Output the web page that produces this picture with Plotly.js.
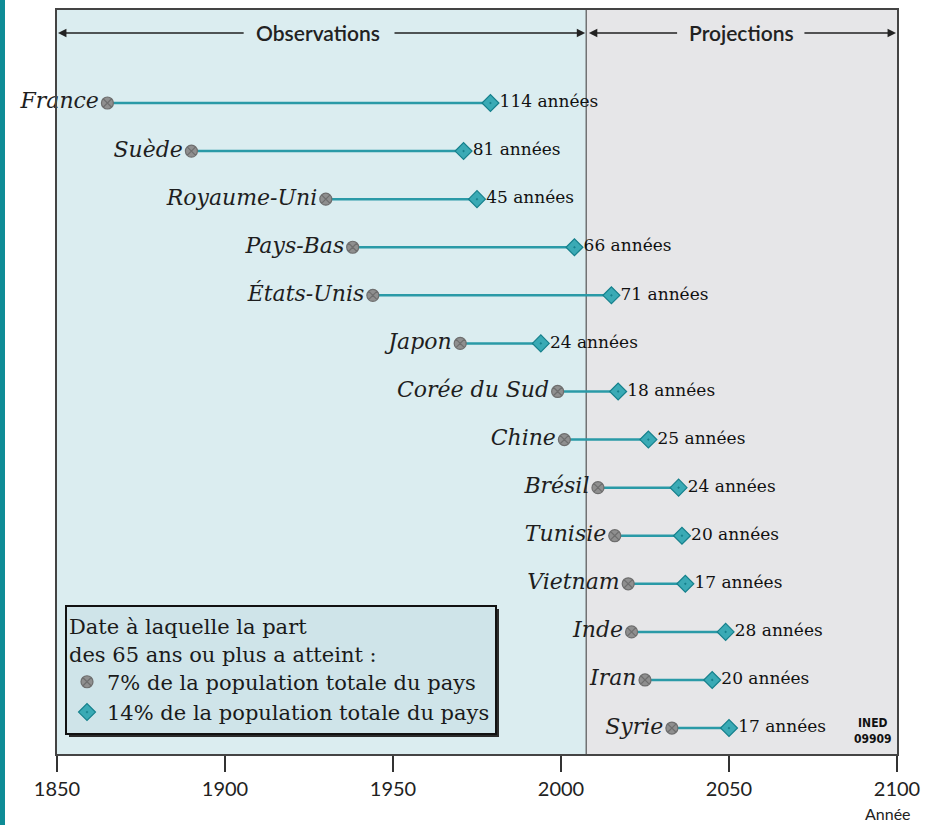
<!DOCTYPE html>
<html>
<head>
<meta charset="utf-8">
<script src="https://cdn.plot.ly/plotly-3.0.1.min.js"></script>
<style>html,body{margin:0;padding:0;background:#fff;}#chart{width:928px;height:825px;}</style>
</head>
<body>
<div id="chart"></div>
<script>
// ---- Data ----
const countries = ['France','Suède','Royaume-Uni','Pays-Bas','États-Unis','Japon','Corée du Sud','Chine','Brésil','Tunisie','Vietnam','Inde','Iran','Syrie'];
const year7  = [1865,1890,1930,1938,1944,1970,1999,2001,2011,2016,2020,2021,2025,2033];
const year14 = [1979,1971,1975,2004,2015,1994,2017,2026,2035,2036,2037,2049,2045,2050];
const durationLabels = ['114 années','81 années','45 années','66 années','71 années','24 années','18 années','25 années','24 années','20 années','17 années','28 années','20 années','17 années'];
const xTicks = [1850,1900,1950,2000,2050,2100];
const observationsEnd = 2007.5;
const seriesNames = ['7% de la population totale du pays','14% de la population totale du pays'];
const legendTitle = 'Date à laquelle la part<br>des 65 ans ou plus a atteint :';

// ---- Build traces ----
const lineX = [], lineY = [];
countries.forEach((c,i)=>{ lineX.push(year7[i], year14[i], null); lineY.push(c, c, null); });

const serif = '"DejaVu Serif", "Liberation Serif", serif';
const sans = 'Lato, "Noto Sans", sans-serif';

const traces = [
  {type:'scatter', mode:'lines', x:lineX, y:lineY, showlegend:false, hoverinfo:'skip',
   line:{color:'#2a9aa7', width:2.5}},
  {type:'scatter', mode:'markers+text', x:year7, y:countries, name:seriesNames[0],
   text:countries, textposition:'middle left', cliponaxis:false,
   textfont:{family:serif, size:22, style:'italic', color:'#1e1e1e'},
   marker:{symbol:'circle-x', size:12, color:'#8f8f8f', line:{color:'#6e6e6e', width:1.2}}},
  {type:'scatter', mode:'markers+text', x:year14, y:countries, name:seriesNames[1],
   text:durationLabels, textposition:'middle right', cliponaxis:false,
   textfont:{family:serif, size:17, color:'#111'},
   marker:{symbol:'diamond-dot', size:13, color:'#3aaab5', line:{color:'#15808c', width:1.2}}}
];

const px2x = p => (p-57)/840;
const py2y = p => (754-p)/744;

const shapes = [
  {type:'rect', xref:'x', yref:'paper', x0:1850, x1:observationsEnd, y0:0, y1:1, layer:'below', fillcolor:'#dbedf0', line:{width:0}},
  {type:'rect', xref:'x', yref:'paper', x0:observationsEnd, x1:2100, y0:0, y1:1, layer:'below', fillcolor:'#e6e6e8', line:{width:0}},
  {type:'line', xref:'x', yref:'paper', x0:observationsEnd, x1:observationsEnd, y0:0, y1:1, layer:'below', line:{color:'#555', width:1.2}},
  // legend drop shadow
  {type:'rect', xref:'paper', yref:'paper', x0:px2x(69), x1:px2x(499), y0:py2y(737), y1:py2y(609), layer:'above', fillcolor:'#2a2a2a', line:{width:0}},
  // left teal page stripe
  {type:'rect', xref:'paper', yref:'paper', x0:px2x(0), x1:px2x(5), y0:py2y(825), y1:py2y(0), layer:'above', fillcolor:'#0e8c96', line:{width:0}}
];

const yTopBand = py2y(33);
const arrowCommon = {xref:'x', yref:'paper', axref:'x', ayref:'pixel', ay:0, text:'', showarrow:true,
  arrowhead:2, arrowsize:1.2, arrowwidth:1.4, arrowcolor:'#222', y:yTopBand, standoff:0, startstandoff:0};
const annotations = [
  Object.assign({}, arrowCommon, {x:1850.3, ax:1906}),
  Object.assign({}, arrowCommon, {x:observationsEnd-0.3, ax:1950}),
  Object.assign({}, arrowCommon, {x:observationsEnd+0.8, ax:2035}),
  Object.assign({}, arrowCommon, {x:2099.7, ax:2072}),
  {xref:'x', yref:'paper', x:1927.8, y:yTopBand, yanchor:'middle', text:'Observations', showarrow:false,
   font:{family:sans, size:21, color:'#222', weight:600}},
  {xref:'x', yref:'paper', x:2053.6, y:yTopBand, yanchor:'middle', text:'Projections', showarrow:false,
   font:{family:sans, size:21, color:'#222', weight:600}},
  {xref:'paper', yref:'paper', x:px2x(888), y:py2y(813), text:'Année', showarrow:false, xanchor:'center', yanchor:'middle',
   font:{family:sans, size:16, color:'#222'}},
  {xref:'paper', yref:'paper', x:px2x(894), y:py2y(731), text:'<b>INED</b><br><b>09909</b>', showarrow:false, xanchor:'right', yanchor:'middle',
   font:{family:'"Liberation Sans Narrow", "DejaVu Sans Condensed", sans-serif', size:12, color:'#111'}}
];

const layout = {
  width:928, height:825,
  margin:{l:57, r:31, t:10, b:71},
  paper_bgcolor:'#ffffff', plot_bgcolor:'#e6e6e8',
  showlegend:true,
  legend:{x:px2x(65), y:py2y(605), xanchor:'left', yanchor:'top',
    bgcolor:'#cfe4e9', bordercolor:'#111', borderwidth:2,
    font:{family:serif, size:21, color:'#1a1a1a'},
    title:{text:legendTitle, font:{family:serif, size:21, color:'#1a1a1a'}},
    tracegroupgap:0, itemwidth:30},
  xaxis:{range:[1850,2100], tickvals:xTicks, ticktext:xTicks.map(String), ticks:'outside', ticklen:16, tickwidth:1.5, tickcolor:'#333',
    showgrid:false, zeroline:false, showline:true, mirror:true, linecolor:'#444', linewidth:2,
    tickfont:{family:sans, size:20, color:'#222'}},
  yaxis:{type:'category', categoryarray:countries, categoryorder:'array', range:[13.54,-1.934],
    showticklabels:false, ticks:'', showgrid:false, zeroline:false, showline:true, mirror:true, linecolor:'#444', linewidth:2},
  shapes:shapes, annotations:annotations
};

Plotly.newPlot('chart', traces, layout, {displayModeBar:false, staticPlot:true});
</script>
</body>
</html>
